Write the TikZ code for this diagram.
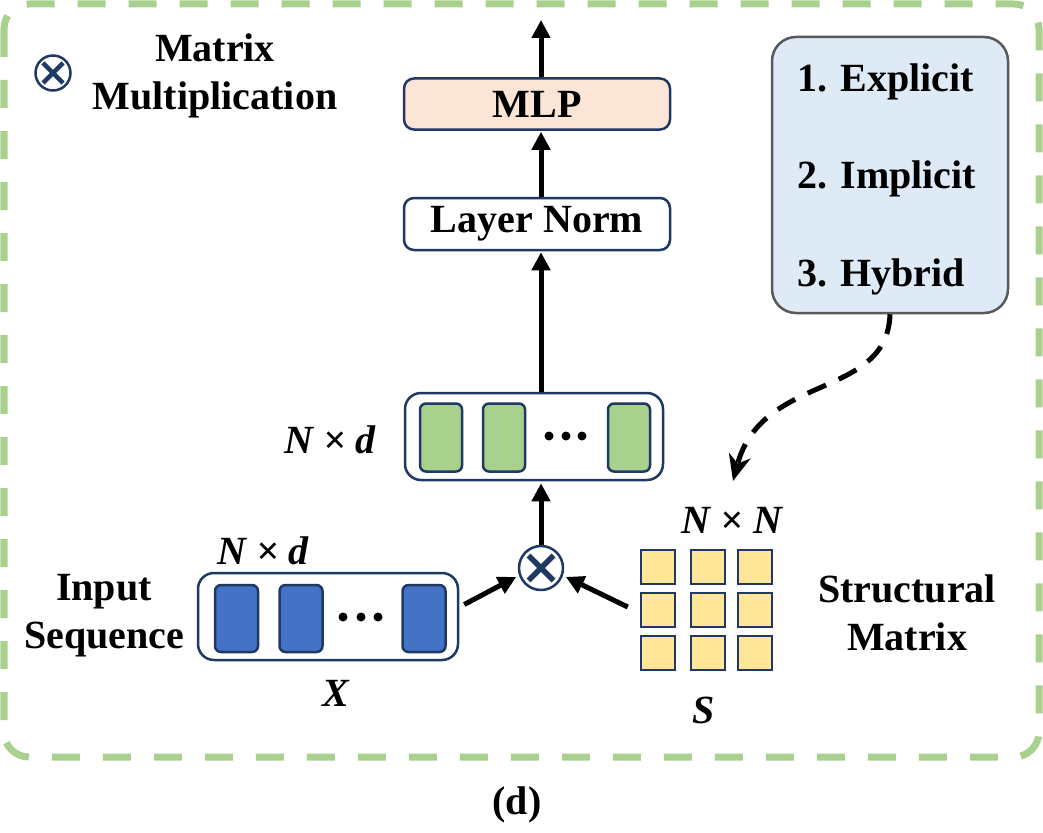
\documentclass[tikz,border=0pt]{standalone}
\usepackage{fontspec}
\setmainfont{Liberation Serif}
\usetikzlibrary{arrows.meta}
\definecolor{navy}{HTML}{1F3864}
\definecolor{frame}{HTML}{A9D18E}
\definecolor{peach}{HTML}{FBE5D6}
\definecolor{seqgreen}{HTML}{A9D18E}
\definecolor{seqblue}{HTML}{4472C4}
\definecolor{cellyellow}{HTML}{FFE699}
\definecolor{lightblue}{HTML}{DEEBF7}
\definecolor{graybd}{HTML}{595959}
\begin{document}
\begin{tikzpicture}[x=1pt,y=-1pt,
  lbl/.style={font=\fontsize{40}{46}\selectfont\bfseries, inner sep=0pt, align=center},
  ital/.style={font=\fontsize{40}{46}\selectfont\bfseries\itshape, inner sep=0pt},
  blk/.style={draw=navy, line width=2.5pt, rounded corners=10pt, inner sep=0pt},
  seqbox/.style={draw=navy, line width=2.5pt, rounded corners=16pt, fill=white, minimum width=258pt, minimum height=87pt, inner sep=0pt},
  cellg/.style={draw=navy, line width=2.5pt, rounded corners=6pt, fill=seqgreen, minimum width=42pt, minimum height=68pt, inner sep=0pt},
  cellb/.style={draw=navy, line width=2.5pt, rounded corners=6pt, fill=seqblue, minimum width=43pt, minimum height=67pt, inner sep=0pt},
  celly/.style={draw=navy, line width=2.5pt, fill=cellyellow, minimum width=34pt, minimum height=34pt, inner sep=0pt},
  dotn/.style={circle, fill=black, minimum size=9pt, inner sep=0pt},
  arr/.style={line width=5pt, -{Triangle[length=18pt,width=18pt]}},
  otimes/.style={circle, draw=navy, line width=2.5pt, fill=white, inner sep=0pt}
]
\useasboundingbox (0,0) rectangle (1043,832);

% frame
\draw[frame, line width=7pt, dash pattern=on 28pt off 23pt, rounded corners=25pt] (4,4) rectangle (1039,757);

% legend
\node[otimes, minimum size=35pt] (lg) at (53,73) {};
\draw[navy, line width=4.5pt] ([shift={(-10pt,-10pt)}]lg.center) -- ([shift={(10pt,10pt)}]lg.center);
\draw[navy, line width=4.5pt] ([shift={(-10pt,10pt)}]lg.center) -- ([shift={(10pt,-10pt)}]lg.center);
\node[lbl] (lgt) at (215,76) {Matrix\\[2pt]Multiplication};

% central stack
\node[otimes, minimum size=44pt] (ot) at (541,568) {};
\draw[navy, line width=5.5pt] ([shift={(-12.5pt,-12.5pt)}]ot.center) -- ([shift={(12.5pt,12.5pt)}]ot.center);
\draw[navy, line width=5.5pt] ([shift={(-12.5pt,12.5pt)}]ot.center) -- ([shift={(12.5pt,-12.5pt)}]ot.center);

\node[blk, fill=peach, minimum width=266pt, minimum height=51pt] (mlp) at (537,104) {};
\node[lbl] at (mlp.center) {MLP};
\node[blk, fill=white, minimum width=266pt, minimum height=52pt] (ln) at (537,224) {};
\node[lbl] at (ln.center) {Layer Norm};

\node[seqbox] (gs) at (534,436.5) {};
\node[cellg] (g1) at (441,437.5) {};
\node[cellg] (g2) at (504,437.5) {};
\node[cellg] (g3) at (629,437.5) {};
\node[dotn] (gd1) at (549,436) {};
\node[dotn] (gd2) at (566,436) {};
\node[dotn] (gd3) at (582,436) {};
\node[ital] (gl) at (330,440) {N × d};

\coordinate (top) at (541,20);
\draw[arr] (mlp.north -| ot) -- (top);
\draw[arr] (ln.north -| ot) -- ([yshift=-1pt]mlp.south -| ot);
\draw[arr] (gs.north -| ot) -- ([yshift=-1pt]ln.south -| ot);
\draw[arr] (ot.north) -- ([yshift=-2pt]gs.south -| ot);

% input sequence
\node[seqbox, minimum width=260pt] (inp) at (328,616.5) {};
\node[cellb] (b1) at (236.5,618.5) {};
\node[cellb] (b2) at (301,618.5) {};
\node[cellb] (b3) at (424,618.5) {};
\node[dotn] (bd1) at (343,617) {};
\node[dotn] (bd2) at (361,617) {};
\node[dotn] (bd3) at (378,617) {};
\node[ital] (il) at (263,551) {N × d};
\node[ital] (xl) at (336,693) {X};
\node[lbl] (inl) at (104,616) {Input\\[2pt]Sequence};

% structural matrix
\foreach \r/\yy in {1/567,2/610,3/653}{
  \foreach \c/\xx in {1/658,2/708,3/755}{
    \node[celly] (s\r\c) at (\xx,\yy) {};
  }
}
\node[ital] (nl) at (732,520) {N × N};
\node[ital] (sl) at (704,710) {S};
\node[lbl] (stl) at (907,613) {Structural\\[2pt]Matrix};

\draw[arr] ([xshift=5pt,yshift=12pt]inp.east) -- ([shift={(-3pt,-1pt)}]ot.200);
\draw[arr] ([xshift=-12pt,yshift=3pt]s21.west) -- ([shift={(3pt,-1pt)}]ot.340);

% categories
\node[draw=graybd, line width=2.5pt, fill=lightblue, rounded corners=24pt, minimum width=236pt, minimum height=276pt, inner sep=0pt] (cat) at (890,175) {};
\node[lbl, anchor=west] (c1) at (797,82) {1. Explicit};
\node[lbl, anchor=west] (c2) at (797,179) {2. Implicit};
\node[lbl, anchor=west] (c3) at (797,277) {3. Hybrid};

\coordinate (tip) at (733,481);
\draw[line width=5pt, dash pattern=on 20pt off 14pt, -{Stealth[length=26pt,width=22pt,inset=8pt]}] (cat.south) .. controls (887,400) and (762,372) .. (tip);

% caption
\node[lbl] (cap) at (517,805) {(d)};
\end{tikzpicture}
\end{document}
